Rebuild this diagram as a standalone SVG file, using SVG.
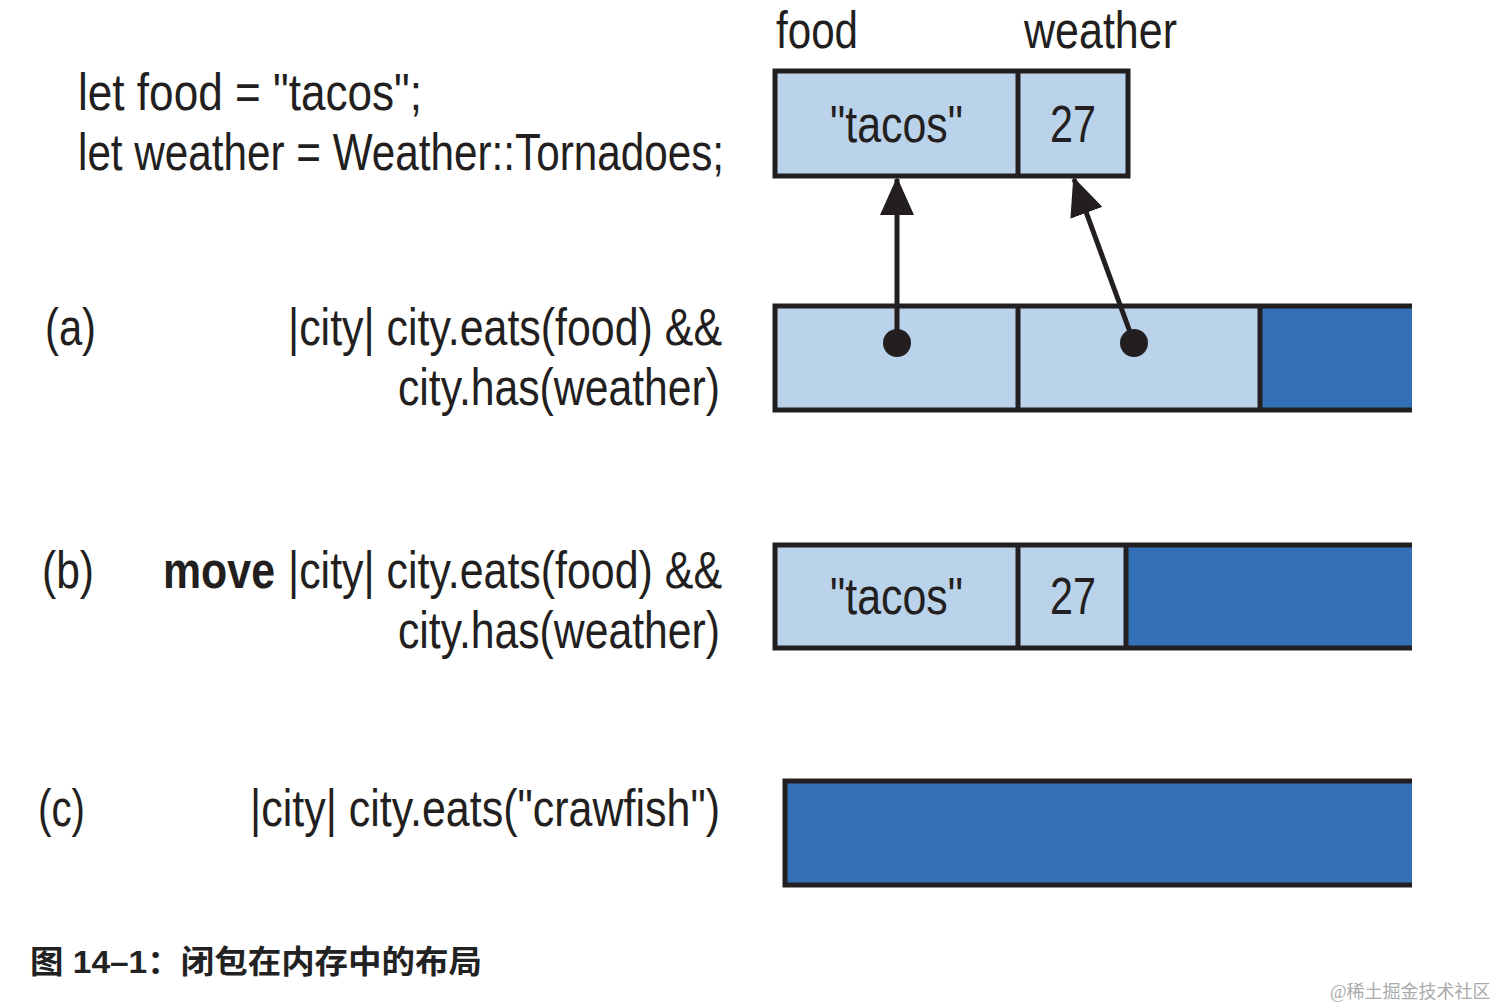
<svg xmlns="http://www.w3.org/2000/svg" width="1496" height="1008" viewBox="0 0 1496 1008">
<style>
.t{font-family:"Liberation Sans",Arial,sans-serif;font-size:52px;fill:#231f20}
.b{font-weight:bold}
.lt{fill:#bad3ea}
.dk{fill:#3370b8}
.ln{stroke:#231f20;stroke-width:5;fill:none}
</style>
<defs>
<marker id="ah" markerWidth="38" markerHeight="34" refX="36" refY="17" orient="auto" markerUnits="userSpaceOnUse" viewBox="0 0 38 34">
<path d="M0,0 L38,17 L0,34 z" fill="#231f20"/>
</marker>
</defs>
<rect width="1496" height="1008" fill="#fff"/>
<g id="code">
<text class="t" x="78" y="110" textLength="344" lengthAdjust="spacingAndGlyphs">let food = "tacos";</text>
<text class="t" x="78" y="170" textLength="646" lengthAdjust="spacingAndGlyphs">let weather = Weather::Tornadoes;</text>
</g>
<g id="vars">
<text class="t" x="776" y="48" textLength="82" lengthAdjust="spacingAndGlyphs">food</text>
<text class="t" x="1024" y="48" textLength="153" lengthAdjust="spacingAndGlyphs">weather</text>
<rect class="lt" x="775" y="71" width="353" height="105"/>
<rect class="ln" x="775" y="71" width="353" height="105"/>
<line class="ln" x1="1018" y1="71" x2="1018" y2="176"/>
<text class="t" x="830" y="142" textLength="133" lengthAdjust="spacingAndGlyphs">"tacos"</text>
<text class="t" x="1050" y="142" textLength="46" lengthAdjust="spacingAndGlyphs">27</text>
</g>
<g id="rowA">
<text class="t" x="45" y="345" textLength="51" lengthAdjust="spacingAndGlyphs">(a)</text>
<text class="t" x="288" y="345" textLength="434" lengthAdjust="spacingAndGlyphs">|city| city.eats(food) &amp;&amp;</text>
<text class="t" x="398" y="405" textLength="322" lengthAdjust="spacingAndGlyphs">city.has(weather)</text>
<rect class="lt" x="775" y="306" width="485" height="104"/>
<rect class="dk" x="1260" y="306" width="152" height="104"/>
<path class="ln" d="M1412,306 H775 V410 H1412 M1018,306 V410 M1260,306 V410"/>
<circle cx="897" cy="343" r="14" fill="#231f20"/>
<circle cx="1134" cy="343" r="14" fill="#231f20"/>
</g>
<g id="rowB">
<text class="t" x="42" y="588" textLength="52" lengthAdjust="spacingAndGlyphs">(b)</text>
<text class="t b" x="163" y="588" textLength="112" lengthAdjust="spacingAndGlyphs">move</text>
<text class="t" x="288" y="588" textLength="434" lengthAdjust="spacingAndGlyphs">|city| city.eats(food) &amp;&amp;</text>
<text class="t" x="398" y="648" textLength="322" lengthAdjust="spacingAndGlyphs">city.has(weather)</text>
<rect class="lt" x="775" y="545" width="351" height="103"/>
<rect class="dk" x="1126" y="545" width="286" height="103"/>
<path class="ln" d="M1412,545 H775 V648 H1412 M1018,545 V648 M1126,545 V648"/>
<text class="t" x="830" y="614" textLength="133" lengthAdjust="spacingAndGlyphs">"tacos"</text>
<text class="t" x="1050" y="614" textLength="46" lengthAdjust="spacingAndGlyphs">27</text>
</g>
<g id="rowC">
<text class="t" x="38" y="826" textLength="47" lengthAdjust="spacingAndGlyphs">(c)</text>
<text class="t" x="250" y="826" textLength="470" lengthAdjust="spacingAndGlyphs">|city| city.eats("crawfish")</text>
<rect class="dk" x="785" y="781" width="627" height="104"/>
<path class="ln" d="M1412,781 H785 V885 H1412"/>
</g>
<g id="connectors">
<line x1="897" y1="343" x2="897" y2="179" stroke="#231f20" stroke-width="5" marker-end="url(#ah)"/>
<line x1="1134" y1="343" x2="1074" y2="179" stroke="#231f20" stroke-width="5" marker-end="url(#ah)"/>
</g>
<text x="30" y="973" textLength="452" lengthAdjust="spacingAndGlyphs" style="font-family:'Liberation Sans','Noto Sans CJK SC',sans-serif;font-size:32px;font-weight:bold;fill:#222">图 14–1：闭包在内存中的布局</text>
<text x="1330" y="998" style="font-family:'Liberation Serif','Noto Sans CJK SC',serif;font-size:18px;fill:#aaa">@稀土掘金技术社区</text>
</svg>
